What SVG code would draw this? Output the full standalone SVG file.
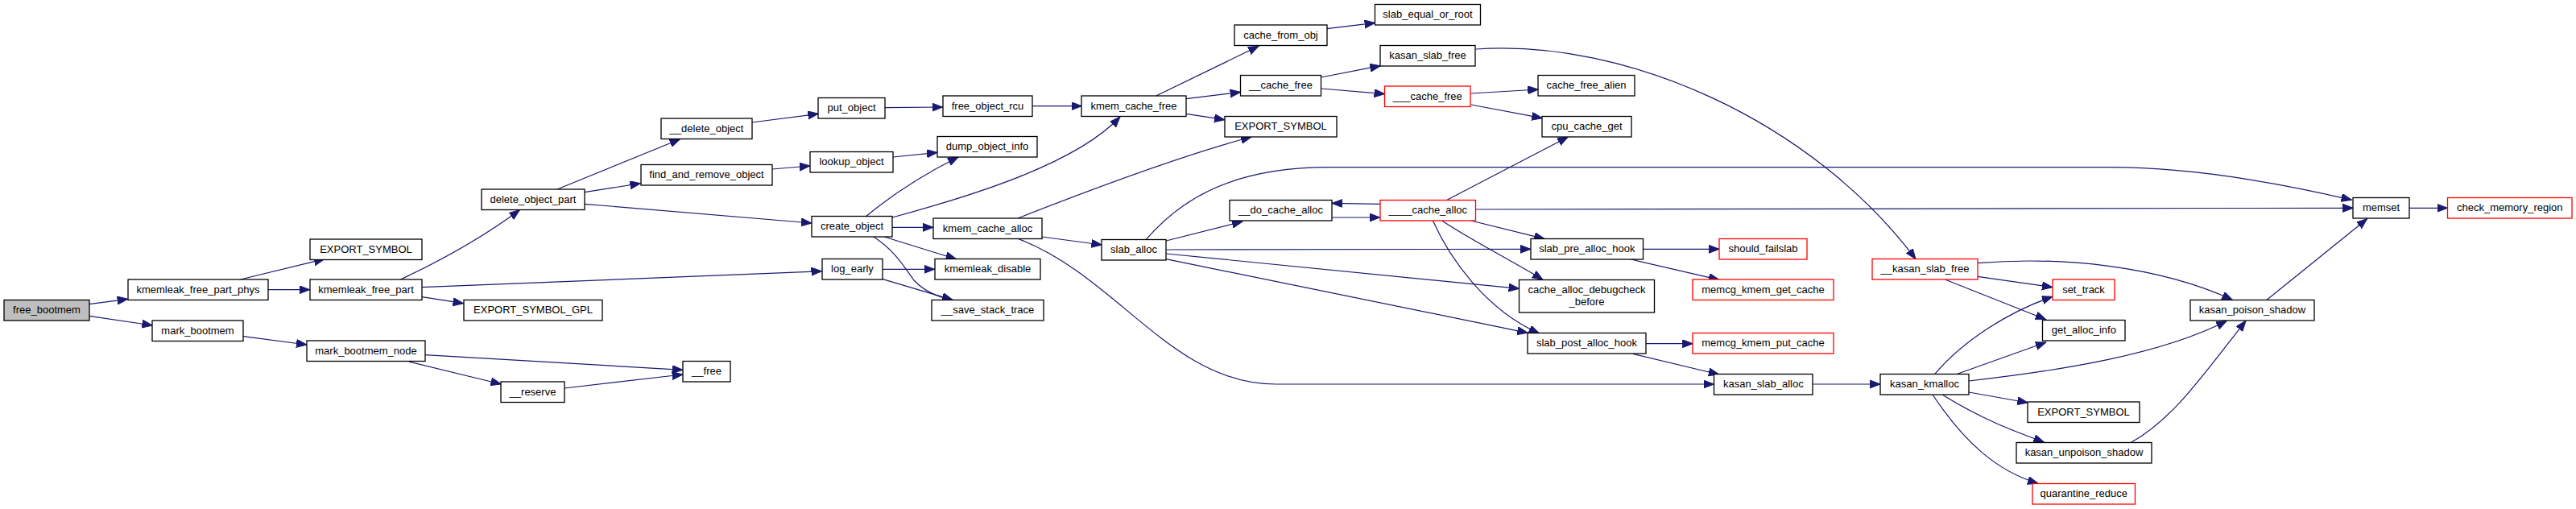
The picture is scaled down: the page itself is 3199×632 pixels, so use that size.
<svg xmlns="http://www.w3.org/2000/svg" width="3199" height="632" viewBox="0 0 3199 632">
<style>
.n rect{fill:#fff;stroke:#000;stroke-width:1.3}
.n.root rect{fill:#bfbfbf}
.n.red rect{stroke:#ff0000}
.n text{font-family:"Liberation Sans",Arial,sans-serif;font-size:13px;text-anchor:middle;fill:#000}
#edges path{fill:none;stroke:#191970;stroke-width:1.2;marker-end:url(#arr)}
</style>
<defs>
<marker id="arr" markerUnits="userSpaceOnUse" markerWidth="14" markerHeight="11" refX="13" refY="5" orient="auto">
<path d="M0,0 L13,5 L0,10 z" fill="#191970" stroke="#191970" stroke-width="1"/>
</marker>
</defs>
<rect width="3199" height="632" fill="#fff"/>
<g id="edges">
<path d="M110.7,377.7 L158.7,371.3"/>
<path d="M110.7,392.3 L189.3,404"/>
<path d="M298.5,347 L403,321.7"/>
<path d="M333.2,359.7 L384.7,359.7"/>
<path d="M497.4,347 C540,327 595,298 645.4,260.7"/>
<path d="M524,356.7 L1020.5,336.7"/>
<path d="M524,368.7 L575.5,376.7"/>
<path d="M302,417.7 L381,428"/>
<path d="M528,440.7 L847.7,459.3"/>
<path d="M507.7,449 L622.4,477"/>
<path d="M701,482 L847.7,465"/>
<path d="M692,235 L844.6,172.7"/>
<path d="M725.9,238.7 L795.5,227.7"/>
<path d="M725.9,253.3 L1008,277"/>
<path d="M958.5,210 L1006,206"/>
<path d="M1109,195 L1164,189.3"/>
<path d="M933.7,152 L1016.3,141.3"/>
<path d="M1099,133.7 L1170.7,133"/>
<path d="M1282,131.7 L1343.5,131.7"/>
<path d="M1076,268.3 C1110,240 1150,215 1190,195"/>
<path d="M1108,270 C1200,245 1335,205 1391,145"/>
<path d="M1108,282.3 L1159,282.3"/>
<path d="M1098,294 L1187.5,321.7"/>
<path d="M1084.8,294 C1110,310 1122,330 1135,348 C1148,362 1165,369 1183,372.3"/>
<path d="M1095.5,334.3 L1160.7,334.3"/>
<path d="M1095.5,346.3 L1183,372.3"/>
<path d="M1435.7,119 L1563,57.3"/>
<path d="M1473.2,122.7 L1540.6,114.3"/>
<path d="M1473.2,141.3 L1521,148.7"/>
<path d="M1263.8,271 C1330,245 1460,195 1554,170"/>
<path d="M1293.7,294 L1368.3,304"/>
<path d="M1265,296.7 C1390,345 1455,477 1585,477 L2128.5,477"/>
<path d="M1448.2,299 L1543,275"/>
<path d="M1423,297.7 C1460,255 1520,207.7 1650,207.7 L2620,207.7 C2700,207.7 2800,220 2920.5,248.3"/>
<path d="M1448.2,310 L1900.9,309.3"/>
<path d="M1448,315 L1886.6,358.3"/>
<path d="M1448,321.7 L1897.3,413.3"/>
<path d="M1654,270 L1713.8,270"/>
<path d="M1713.8,253.3 L1654,252.3"/>
<path d="M1797,248.3 L1947.3,170"/>
<path d="M1832.6,260 L2922.4,258.3"/>
<path d="M1826.8,274 L1918.3,296.7"/>
<path d="M1790.6,274 C1830,300 1880,325 1916,347.3"/>
<path d="M1779.4,274 C1800,320 1845,385 1911.6,414"/>
<path d="M1832.6,61 C2020,48 2250,150 2379,321.7"/>
<path d="M1640.6,96 L1714.3,81.7"/>
<path d="M1640.6,110 L1719.6,116.7"/>
<path d="M1647.8,35.7 L1707.6,28.3"/>
<path d="M1826.8,116 L1910.3,111"/>
<path d="M1826.8,130 L1915.2,146.7"/>
<path d="M2040.6,309.3 L2135.2,309.3"/>
<path d="M2025.4,322 L2134.8,347.3"/>
<path d="M2044.2,426.7 L2102.2,426.7"/>
<path d="M2027.7,439.3 L2134.8,465"/>
<path d="M2250.9,477 L2335.2,477"/>
<path d="M2402.6,464.7 C2440,420 2500,385 2548.9,368.3"/>
<path d="M2429.4,464.7 L2540.8,425"/>
<path d="M2445,473 C2560,460 2685,440 2765.3,398.3"/>
<path d="M2445,487 L2518.3,500"/>
<path d="M2412,490 C2460,520 2500,535 2538.4,549"/>
<path d="M2400,490 C2440,550 2480,585 2531,600.3"/>
<path d="M2455.8,326.7 C2560,318 2680,330 2772.4,372.3"/>
<path d="M2455.8,343.3 L2549,356.7"/>
<path d="M2416,347.3 L2540.8,396.7"/>
<path d="M2645.9,549.7 C2700,520 2740,460 2789,398.3"/>
<path d="M2814.5,372.7 L2939.6,271.7"/>
<path d="M2992,258.3 L3039.5,258.3"/>
</g>
<g id="free_bootmem" class="n root"><rect x="5" y="372.5" width="106" height="25.5"/><text x="58" y="389.3">free_bootmem</text></g>
<g id="kmemleak_free_part_phys" class="n"><rect x="159" y="347" width="174" height="25.5"/><text x="246" y="363.8">kmemleak_free_part_phys</text></g>
<g id="EXPORT_SYMBOL_a" class="n"><rect x="385" y="297" width="139" height="25.5"/><text x="454.5" y="313.8">EXPORT_SYMBOL</text></g>
<g id="kmemleak_free_part" class="n"><rect x="385" y="347" width="139" height="25.5"/><text x="454.5" y="363.8">kmemleak_free_part</text></g>
<g id="EXPORT_SYMBOL_GPL" class="n"><rect x="576" y="372.5" width="172" height="25.5"/><text x="662" y="389.3">EXPORT_SYMBOL_GPL</text></g>
<g id="delete_object_part" class="n"><rect x="598" y="235" width="128" height="25.5"/><text x="662" y="251.8">delete_object_part</text></g>
<g id="mark_bootmem" class="n"><rect x="189" y="398" width="113" height="25.5"/><text x="245.5" y="414.8">mark_bootmem</text></g>
<g id="mark_bootmem_node" class="n"><rect x="381" y="423" width="147" height="25.5"/><text x="454.5" y="439.8">mark_bootmem_node</text></g>
<g id="__reserve" class="n"><rect x="622" y="474" width="79" height="25.5"/><text x="661.5" y="490.8">__reserve</text></g>
<g id="__free" class="n"><rect x="848" y="448.5" width="59" height="25.5"/><text x="877.5" y="465.3">__free</text></g>
<g id="__delete_object" class="n"><rect x="821" y="147" width="113" height="25.5"/><text x="877.5" y="163.8">__delete_object</text></g>
<g id="find_and_remove_object" class="n"><rect x="796" y="204.5" width="163" height="25.5"/><text x="877.5" y="221.3">find_and_remove_object</text></g>
<g id="lookup_object" class="n"><rect x="1006" y="188.5" width="103" height="25.5"/><text x="1057.5" y="205.3">lookup_object</text></g>
<g id="create_object" class="n"><rect x="1008" y="268.5" width="100" height="25.5"/><text x="1058" y="285.3">create_object</text></g>
<g id="log_early" class="n"><rect x="1021" y="321.5" width="75" height="25.5"/><text x="1058.5" y="338.3">log_early</text></g>
<g id="put_object" class="n"><rect x="1016" y="121.5" width="83" height="25.5"/><text x="1057.5" y="138.3">put_object</text></g>
<g id="free_object_rcu" class="n"><rect x="1171" y="119" width="111" height="25.5"/><text x="1226.5" y="135.8">free_object_rcu</text></g>
<g id="dump_object_info" class="n"><rect x="1164" y="169.5" width="124" height="25.5"/><text x="1226" y="186.3">dump_object_info</text></g>
<g id="kmem_cache_alloc" class="n"><rect x="1159" y="271" width="135" height="25.5"/><text x="1226.5" y="287.8">kmem_cache_alloc</text></g>
<g id="kmemleak_disable" class="n"><rect x="1161" y="321.5" width="131" height="25.5"/><text x="1226.5" y="338.3">kmemleak_disable</text></g>
<g id="__save_stack_trace" class="n"><rect x="1157" y="372.5" width="139" height="25.5"/><text x="1226.5" y="389.3">__save_stack_trace</text></g>
<g id="kmem_cache_free" class="n"><rect x="1343" y="119" width="130" height="25.5"/><text x="1408" y="135.8">kmem_cache_free</text></g>
<g id="slab_alloc" class="n"><rect x="1368" y="297.5" width="80" height="25.5"/><text x="1408" y="314.3">slab_alloc</text></g>
<g id="cache_from_obj" class="n"><rect x="1533" y="31" width="115" height="25.5"/><text x="1590.5" y="47.8">cache_from_obj</text></g>
<g id="__cache_free" class="n"><rect x="1540.5" y="93.5" width="100" height="25.5"/><text x="1590.5" y="110.3">__cache_free</text></g>
<g id="EXPORT_SYMBOL_b" class="n"><rect x="1521" y="144.5" width="139" height="25.5"/><text x="1590.5" y="161.3">EXPORT_SYMBOL</text></g>
<g id="__do_cache_alloc" class="n"><rect x="1527" y="248.5" width="127" height="25.5"/><text x="1590.5" y="265.3">__do_cache_alloc</text></g>
<g id="slab_equal_or_root" class="n"><rect x="1707.5" y="5.5" width="131" height="25.5"/><text x="1773" y="22.3">slab_equal_or_root</text></g>
<g id="kasan_slab_free" class="n"><rect x="1714" y="56.5" width="118" height="25.5"/><text x="1773" y="73.3">kasan_slab_free</text></g>
<g id="___cache_free" class="n red"><rect x="1719.5" y="107" width="106.5" height="25.5"/><text x="1772.8" y="123.8">___cache_free</text></g>
<g id="____cache_alloc" class="n red"><rect x="1714" y="248.5" width="118.5" height="25.5"/><text x="1773.3" y="265.3">____cache_alloc</text></g>
<g id="cache_free_alien" class="n"><rect x="1910" y="93.5" width="120" height="25.5"/><text x="1970" y="110.3">cache_free_alien</text></g>
<g id="cpu_cache_get" class="n"><rect x="1915" y="144.5" width="111" height="25.5"/><text x="1970.5" y="161.3">cpu_cache_get</text></g>
<g id="slab_pre_alloc_hook" class="n"><rect x="1901" y="296.5" width="139.5" height="25.5"/><text x="1970.8" y="313.3">slab_pre_alloc_hook</text></g>
<g id="cache_alloc_debugcheck_before" class="n"><rect x="1886.5" y="347.5" width="168" height="40.5"/><text x="1970.5" y="363.5">cache_alloc_debugcheck</text><text x="1970.5" y="378.5">_before</text></g>
<g id="slab_post_alloc_hook" class="n"><rect x="1897" y="413.5" width="147" height="25.5"/><text x="1970.5" y="430.3">slab_post_alloc_hook</text></g>
<g id="should_failslab" class="n red"><rect x="2135" y="296.5" width="109" height="25.5"/><text x="2189.5" y="313.3">should_failslab</text></g>
<g id="memcg_kmem_get_cache" class="n red"><rect x="2102" y="347" width="175" height="25.5"/><text x="2189.5" y="363.8">memcg_kmem_get_cache</text></g>
<g id="memcg_kmem_put_cache" class="n red"><rect x="2102" y="413.5" width="175" height="25.5"/><text x="2189.5" y="430.3">memcg_kmem_put_cache</text></g>
<g id="kasan_slab_alloc" class="n"><rect x="2128.5" y="464.5" width="122.5" height="25.5"/><text x="2189.8" y="481.3">kasan_slab_alloc</text></g>
<g id="__kasan_slab_free" class="n red"><rect x="2325" y="321.5" width="131" height="25.5"/><text x="2390.5" y="338.3">__kasan_slab_free</text></g>
<g id="kasan_kmalloc" class="n"><rect x="2335" y="464.5" width="110" height="25.5"/><text x="2390" y="481.3">kasan_kmalloc</text></g>
<g id="set_track" class="n red"><rect x="2549" y="347" width="77" height="25.5"/><text x="2587.5" y="363.8">set_track</text></g>
<g id="get_alloc_info" class="n"><rect x="2536.5" y="397.5" width="102.5" height="25.5"/><text x="2587.8" y="414.3">get_alloc_info</text></g>
<g id="EXPORT_SYMBOL_c" class="n"><rect x="2518" y="499" width="139" height="25.5"/><text x="2587.5" y="515.8">EXPORT_SYMBOL</text></g>
<g id="kasan_unpoison_shadow" class="n"><rect x="2504" y="549.5" width="168" height="25.5"/><text x="2588" y="566.3">kasan_unpoison_shadow</text></g>
<g id="quarantine_reduce" class="n red"><rect x="2524" y="600.5" width="127.5" height="25.5"/><text x="2587.8" y="617.3">quarantine_reduce</text></g>
<g id="kasan_poison_shadow" class="n"><rect x="2720" y="372.5" width="154" height="25.5"/><text x="2797" y="389.3">kasan_poison_shadow</text></g>
<g id="memset" class="n"><rect x="2922" y="245.5" width="70" height="25.5"/><text x="2957" y="262.3">memset</text></g>
<g id="check_memory_region" class="n red"><rect x="3039.5" y="245.5" width="154.5" height="25.5"/><text x="3116.8" y="262.3">check_memory_region</text></g>
</svg>
